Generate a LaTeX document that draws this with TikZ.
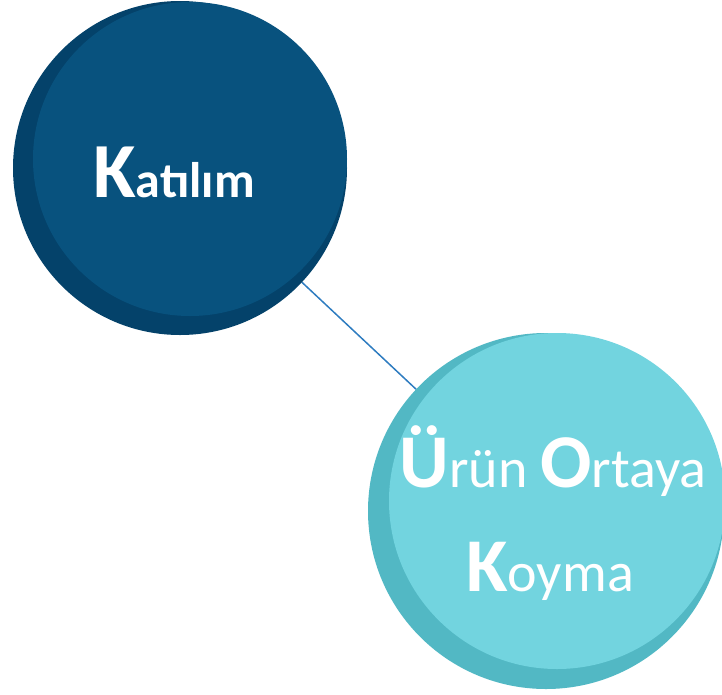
\documentclass[tikz,border=0pt]{standalone}
\usepackage{fontspec}
\setmainfont{Carlito}
\usetikzlibrary{backgrounds}
\definecolor{darkback}{HTML}{04426A}
\definecolor{darkfront}{HTML}{08527E}
\definecolor{lightback}{HTML}{52B8C4}
\definecolor{lightfront}{HTML}{72D4DF}
\definecolor{linkblue}{HTML}{2E7CC0}
\begin{document}
\begin{tikzpicture}[x=1pt,y=-1pt,
  disc/.style={circle,inner sep=0pt,outer sep=0pt,minimum size=#1},
  label/.style={text=white,inner sep=0pt,anchor=base,align=center},
  link/.style={draw=linkblue,line width=1.5pt}]
\useasboundingbox (0,0) rectangle (722,694);
\clip (0,0) rectangle (722,694);
\node[disc=334pt,fill=darkback] (c1b) at (180,168) {};
\node[disc=314pt,fill=darkfront] (c1f) at (190,159) {};
\node[disc=356pt,fill=lightback] (c2b) at (546,511) {};
\node[disc=336pt,fill=lightfront] (c2f) at (557,501) {};
\begin{scope}[on background layer]
\draw[link] (c1b) -- (c2b);
\end{scope}
\node[label] (t1) at (174,197) {\bfseries\fontsize{78}{78}\selectfont K\fontsize{50}{50}\selectfont at\i l\i m};
\node[label] (t2) at (553,487) {\fontsize{76}{76}\selectfont\bfseries Ü\fontsize{56}{56}\selectfont\mdseries rün \fontsize{76}{76}\selectfont\bfseries O\fontsize{56}{56}\selectfont\mdseries rtaya};
\node[label] (t3) at (550,591) {\fontsize{76}{76}\selectfont\bfseries K\fontsize{56}{56}\selectfont\mdseries oyma};
\end{tikzpicture}
\end{document}
